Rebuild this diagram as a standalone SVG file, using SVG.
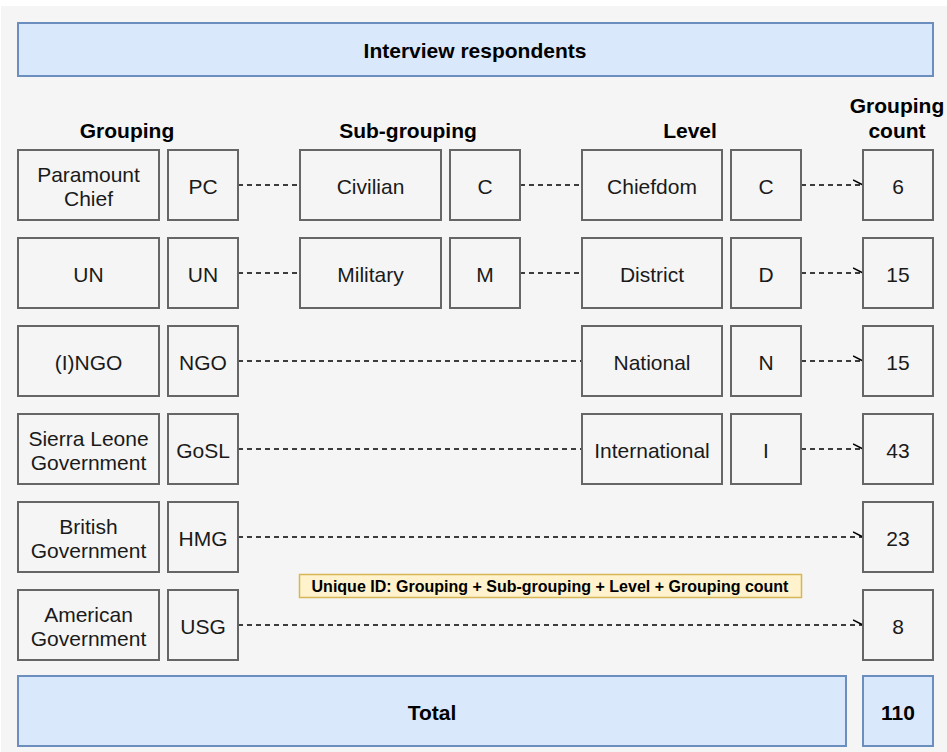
<svg xmlns="http://www.w3.org/2000/svg" width="947" height="752" viewBox="0 0 947 752">
<style>
text{font-family:"Liberation Sans",Arial,Helvetica,sans-serif;fill:#1a1a1a;text-anchor:middle;dominant-baseline:central}
.n{fill:#f5f5f5;stroke:#666;stroke-width:2}
.b{fill:#dae8fc;stroke:#6c8ebf;stroke-width:2}
.t{font-size:21px}
.h{font-size:21px;font-weight:bold;fill:#000}
.c{fill:none;stroke:#000;stroke-width:1.4;stroke-dasharray:5 4}
</style>
<defs>
<marker id="a" markerWidth="12" markerHeight="10" refX="10" refY="6" orient="auto" markerUnits="userSpaceOnUse">
<path d="M0,1 L10,6" stroke="#000" stroke-width="1.4" fill="none"/>
</marker>
</defs>
<rect x="1" y="6" width="946" height="746" fill="#f5f5f5"/>
<g id="title"><rect class="b" x="18" y="23" width="915" height="53"/><text class="h" x="475" y="50">Interview respondents</text></g>
<g id="headers">
<text class="h" x="127" y="130">Grouping</text>
<text class="h" x="408" y="130">Sub-grouping</text>
<text class="h" x="690" y="130">Level</text>
<text class="h" x="897" y="105">Grouping</text>
<text class="h" x="897" y="130">count</text>
</g>
<g id="connectors">
<path class="c" d="M238,185 H300"/>
<path class="c" d="M520,185 H582"/>
<path class="c" d="M801,185 H863" marker-end="url(#a)"/>
<path class="c" d="M238,273 H300"/>
<path class="c" d="M520,273 H582"/>
<path class="c" d="M801,273 H863" marker-end="url(#a)"/>
<path class="c" d="M238,361 H582"/>
<path class="c" d="M801,361 H863" marker-end="url(#a)"/>
<path class="c" d="M238,449 H582"/>
<path class="c" d="M801,449 H863" marker-end="url(#a)"/>
<path class="c" d="M238,537 H863" marker-end="url(#a)"/>
<path class="c" d="M238,625 H863" marker-end="url(#a)"/>
</g>
<g id="pc"><rect class="n" x="18" y="150" width="141" height="70"/><text class="t" x="88.5" y="174">Paramount</text><text class="t" x="88.5" y="198">Chief</text></g>
<g id="pc-code"><rect class="n" x="168" y="150" width="70" height="70"/><text class="t" x="203" y="186">PC</text></g>
<g id="un"><rect class="n" x="18" y="238" width="141" height="70"/><text class="t" x="88.5" y="274">UN</text></g>
<g id="un-code"><rect class="n" x="168" y="238" width="70" height="70"/><text class="t" x="203" y="274">UN</text></g>
<g id="ngo"><rect class="n" x="18" y="326" width="141" height="70"/><text class="t" x="88.5" y="362">(I)NGO</text></g>
<g id="ngo-code"><rect class="n" x="168" y="326" width="70" height="70"/><text class="t" x="203" y="362">NGO</text></g>
<g id="gosl"><rect class="n" x="18" y="414" width="141" height="70"/><text class="t" x="88.5" y="438">Sierra Leone</text><text class="t" x="88.5" y="462">Government</text></g>
<g id="gosl-code"><rect class="n" x="168" y="414" width="70" height="70"/><text class="t" x="203" y="450">GoSL</text></g>
<g id="hmg"><rect class="n" x="18" y="502" width="141" height="70"/><text class="t" x="88.5" y="526">British</text><text class="t" x="88.5" y="550">Government</text></g>
<g id="hmg-code"><rect class="n" x="168" y="502" width="70" height="70"/><text class="t" x="203" y="538">HMG</text></g>
<g id="usg"><rect class="n" x="18" y="590" width="141" height="70"/><text class="t" x="88.5" y="614">American</text><text class="t" x="88.5" y="638">Government</text></g>
<g id="usg-code"><rect class="n" x="168" y="590" width="70" height="70"/><text class="t" x="203" y="626">USG</text></g>
<g id="civilian"><rect class="n" x="300" y="150" width="141" height="70"/><text class="t" x="370.5" y="186">Civilian</text></g>
<g id="civilian-code"><rect class="n" x="450" y="150" width="70" height="70"/><text class="t" x="485" y="186">C</text></g>
<g id="military"><rect class="n" x="300" y="238" width="141" height="70"/><text class="t" x="370.5" y="274">Military</text></g>
<g id="military-code"><rect class="n" x="450" y="238" width="70" height="70"/><text class="t" x="485" y="274">M</text></g>
<g id="chiefdom"><rect class="n" x="582" y="150" width="140" height="70"/><text class="t" x="652" y="186">Chiefdom</text></g>
<g id="chiefdom-code"><rect class="n" x="731" y="150" width="70" height="70"/><text class="t" x="766" y="186">C</text></g>
<g id="district"><rect class="n" x="582" y="238" width="140" height="70"/><text class="t" x="652" y="274">District</text></g>
<g id="district-code"><rect class="n" x="731" y="238" width="70" height="70"/><text class="t" x="766" y="274">D</text></g>
<g id="national"><rect class="n" x="582" y="326" width="140" height="70"/><text class="t" x="652" y="362">National</text></g>
<g id="national-code"><rect class="n" x="731" y="326" width="70" height="70"/><text class="t" x="766" y="362">N</text></g>
<g id="international"><rect class="n" x="582" y="414" width="140" height="70"/><text class="t" x="652" y="450">International</text></g>
<g id="international-code"><rect class="n" x="731" y="414" width="70" height="70"/><text class="t" x="766" y="450">I</text></g>
<g id="count-6"><rect class="n" x="863" y="150" width="70" height="70"/><text class="t" x="898" y="186">6</text></g>
<g id="count-15a"><rect class="n" x="863" y="238" width="70" height="70"/><text class="t" x="898" y="274">15</text></g>
<g id="count-15b"><rect class="n" x="863" y="326" width="70" height="70"/><text class="t" x="898" y="362">15</text></g>
<g id="count-43"><rect class="n" x="863" y="414" width="70" height="70"/><text class="t" x="898" y="450">43</text></g>
<g id="count-23"><rect class="n" x="863" y="502" width="70" height="70"/><text class="t" x="898" y="538">23</text></g>
<g id="count-8"><rect class="n" x="863" y="590" width="70" height="70"/><text class="t" x="898" y="626">8</text></g>
<g id="unique-id"><rect x="299.5" y="574.5" width="502" height="23" fill="#fff2cc" stroke="#d6b656" stroke-width="1.5"/><text x="550" y="586" style="font-size:16px;font-weight:bold;fill:#000">Unique ID: Grouping + Sub-grouping + Level + Grouping count</text></g>
<g id="total"><rect class="b" x="18" y="676" width="828" height="70"/><text class="h" x="432" y="712">Total</text></g>
<g id="total-count"><rect class="b" x="863" y="676" width="70" height="70"/><text class="h" x="898" y="712">110</text></g>
</svg>
